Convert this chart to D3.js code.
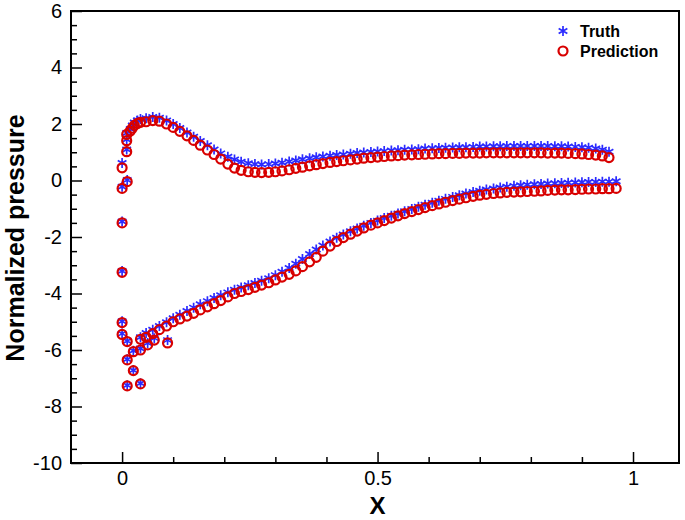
<!DOCTYPE html>
<html>
<head>
<meta charset="utf-8">
<script src="https://cdn.jsdelivr.net/npm/d3@7"></script>
<style>
  body { margin: 0; background: #fff; }
  text { font-family: "Liberation Sans", Arial, sans-serif; }
</style>
</head>
<body>
<div id="chart"></div>
<script>
// chart size
var svgWidth = 685;
var svgHeight = 520;

// ---- data ----
// upper surface, shared x stations
var upperX = [0.047, 0.060, 0.073, 0.087, 0.100, 0.113, 0.127, 0.140, 0.153, 0.167,
  0.180, 0.193, 0.207, 0.220, 0.233, 0.247, 0.260, 0.273, 0.287, 0.300,
  0.313, 0.327, 0.340, 0.353, 0.367, 0.380, 0.393, 0.407, 0.420, 0.433,
  0.447, 0.460, 0.473, 0.487, 0.500, 0.513, 0.527, 0.540, 0.553, 0.567,
  0.580, 0.593, 0.607, 0.620, 0.633, 0.647, 0.660, 0.673, 0.687, 0.700,
  0.713, 0.727, 0.740, 0.753, 0.767, 0.780, 0.793, 0.807, 0.820, 0.833,
  0.847, 0.860, 0.873, 0.887, 0.900, 0.913, 0.927, 0.940, 0.953];
var upperTruth = [2.20, 2.25, 2.22, 2.12, 2.00, 1.86, 1.70, 1.55, 1.40, 1.25,
  1.10, 0.96, 0.84, 0.74, 0.66, 0.61, 0.58, 0.57, 0.58, 0.60,
  0.63, 0.67, 0.71, 0.75, 0.79, 0.82, 0.85, 0.88, 0.90, 0.92,
  0.95, 0.97, 0.99, 1.01, 1.03, 1.04, 1.06, 1.07, 1.09, 1.10,
  1.11, 1.13, 1.14, 1.15, 1.16, 1.17, 1.18, 1.18, 1.19, 1.20,
  1.20, 1.21, 1.21, 1.22, 1.22, 1.22, 1.22, 1.22, 1.22, 1.22,
  1.21, 1.21, 1.20, 1.19, 1.18, 1.16, 1.13, 1.09, 1.02];
var upperPred = [2.08, 2.12, 2.10, 2.00, 1.88, 1.74, 1.58, 1.42, 1.25, 1.08,
  0.92, 0.76, 0.58, 0.44, 0.36, 0.31, 0.29, 0.28, 0.29, 0.31,
  0.34, 0.38, 0.43, 0.47, 0.52, 0.56, 0.60, 0.64, 0.67, 0.70,
  0.73, 0.76, 0.79, 0.81, 0.83, 0.85, 0.87, 0.88, 0.90, 0.91,
  0.92, 0.93, 0.94, 0.95, 0.95, 0.96, 0.96, 0.97, 0.97, 0.97,
  0.98, 0.98, 0.98, 0.98, 0.98, 0.98, 0.98, 0.98, 0.98, 0.97,
  0.97, 0.97, 0.96, 0.95, 0.94, 0.92, 0.90, 0.87, 0.81];

// lower surface
var lowerX = [0.047, 0.060, 0.073, 0.087, 0.100, 0.113, 0.127, 0.140, 0.153, 0.167,
  0.180, 0.193, 0.207, 0.220, 0.233, 0.247, 0.260, 0.273, 0.287, 0.300,
  0.313, 0.327, 0.340, 0.353, 0.367, 0.380, 0.393, 0.407, 0.420, 0.433,
  0.447, 0.460, 0.473, 0.487, 0.500, 0.513, 0.527, 0.540, 0.553, 0.567,
  0.580, 0.593, 0.607, 0.620, 0.633, 0.647, 0.660, 0.673, 0.687, 0.700,
  0.713, 0.727, 0.740, 0.753, 0.767, 0.780, 0.793, 0.807, 0.820, 0.833,
  0.847, 0.860, 0.873, 0.887, 0.900, 0.913, 0.927, 0.940, 0.953, 0.967];
var lowerTruth = [-5.40, -5.28, -5.15, -5.02, -4.88, -4.75, -4.62, -4.50, -4.38, -4.27,
  -4.16, -4.06, -3.96, -3.87, -3.79, -3.71, -3.63, -3.55, -3.46, -3.35,
  -3.23, -3.10, -2.95, -2.78, -2.60, -2.44, -2.30, -2.16, -2.03, -1.91,
  -1.80, -1.70, -1.60, -1.50, -1.42, -1.33, -1.25, -1.17, -1.09, -1.01,
  -0.93, -0.86, -0.79, -0.72, -0.65, -0.58, -0.52, -0.46, -0.41, -0.36,
  -0.32, -0.28, -0.25, -0.22, -0.19, -0.17, -0.15, -0.13, -0.12, -0.11,
  -0.10, -0.09, -0.08, -0.07, -0.06, -0.05, -0.05, -0.04, -0.04, -0.03];
var lowerPred = [-5.55, -5.42, -5.28, -5.15, -5.00, -4.90, -4.80, -4.70, -4.58, -4.47,
  -4.36, -4.25, -4.12, -4.00, -3.93, -3.86, -3.78, -3.70, -3.62, -3.52,
  -3.42, -3.32, -3.20, -3.05, -2.88, -2.72, -2.50, -2.32, -2.16, -2.02,
  -1.90, -1.79, -1.68, -1.58, -1.50, -1.42, -1.33, -1.25, -1.17, -1.10,
  -1.03, -0.96, -0.89, -0.83, -0.77, -0.71, -0.66, -0.61, -0.56, -0.52,
  -0.49, -0.46, -0.44, -0.42, -0.41, -0.40, -0.39, -0.38, -0.37, -0.35,
  -0.34, -0.33, -0.33, -0.32, -0.31, -0.30, -0.30, -0.29, -0.29, -0.28];

// leading edge cluster
var leX = [0.000, 0.000, 0.000, 0.000, 0.000, 0.000, 0.009, 0.009, 0.009, 0.010,
  0.016, 0.020, 0.024, 0.030, 0.036, 0.010, 0.010, 0.010, 0.022, 0.022,
  0.036, 0.036, 0.036, 0.050, 0.063, 0.089];
var leTruth = [0.62, -0.22, -1.45, -3.20, -4.98, -5.42, 1.68, 1.45, 1.10, 0.02,
  1.82, 1.95, 2.05, 2.12, 2.18, -5.68, -6.33, -7.25, -6.03, -6.72,
  -7.18, -5.95, -5.55, -5.75, -5.58, -5.65];
var lePred = [0.45, -0.28, -1.50, -3.25, -5.03, -5.45, 1.63, 1.41, 1.02, -0.04,
  1.75, 1.85, 1.95, 2.02, 2.06, -5.70, -6.35, -7.27, -6.06, -6.73,
  -7.20, -6.00, -5.62, -5.82, -5.65, -5.75];

var xMajor = [0, 0.5, 1];
var xMinor = [0.1, 0.2, 0.3, 0.4, 0.6, 0.7, 0.8, 0.9];
var yMajor = [-10, -8, -6, -4, -2, 0, 2, 4, 6];
var yMinor = [-9.5, -9, -8.5, -7.5, -7, -6.5, -5.5, -5, -4.5, -3.5, -3, -2.5,
  -1.5, -1, -0.5, 0.5, 1, 1.5, 2.5, 3, 3.5, 4.5, 5, 5.5];

var seriesNames = ["Truth", "Prediction"];
var blue = "#2b2bff";
var red = "#d80000";

// ---- layout ----
var plot = { left: 71, right: 679, top: 11, bottom: 463 };

var svg = d3.select("#chart")
  .append("svg")
  .attr("width", svgWidth)
  .attr("height", svgHeight);

var xScale = d3.scaleLinear().domain([-0.1, 1.09]).range([plot.left, plot.right]);
var yScale = d3.scaleLinear().domain([-10, 6]).range([plot.bottom, plot.top]);

// plain hyphen for negatives, like the original
var fmt = d => String(d);

// minor ticks (inside)
svg.append("g")
  .attr("transform", `translate(0, ${plot.bottom})`)
  .call(d3.axisBottom(xScale).tickValues(xMinor).tickSize(-6).tickFormat(""))
  .call(g => g.select(".domain").remove());
svg.append("g")
  .attr("transform", `translate(${plot.left}, 0)`)
  .call(d3.axisLeft(yScale).tickValues(yMinor).tickSize(-6).tickFormat(""))
  .call(g => g.select(".domain").remove());

// major ticks with labels
var xAxis = svg.append("g")
  .attr("transform", `translate(0, ${plot.bottom})`)
  .call(d3.axisBottom(xScale).tickValues(xMajor).tickSize(-11).tickPadding(8).tickFormat(fmt));
xAxis.select(".domain").remove();
xAxis.selectAll("text").attr("font-size", 20).attr("font-family", "Liberation Sans, Arial, sans-serif").attr("fill", "#000");

var yAxis = svg.append("g")
  .attr("transform", `translate(${plot.left}, 0)`)
  .call(d3.axisLeft(yScale).tickValues(yMajor).tickSize(-11).tickPadding(9).tickFormat(fmt));
yAxis.select(".domain").remove();
yAxis.selectAll("text").attr("font-size", 20).attr("font-family", "Liberation Sans, Arial, sans-serif").attr("fill", "#000");

svg.selectAll(".tick line").attr("stroke", "#000").attr("stroke-width", 1.5);

// frame
svg.append("rect")
  .attr("x", plot.left)
  .attr("y", plot.top)
  .attr("width", plot.right - plot.left)
  .attr("height", plot.bottom - plot.top)
  .attr("fill", "none")
  .attr("stroke", "#000")
  .attr("stroke-width", 2);

// axis titles
svg.append("text")
  .attr("x", xScale(0.5))
  .attr("y", 514)
  .attr("text-anchor", "middle")
  .attr("font-size", 24)
  .attr("font-weight", "bold")
  .text("X");

svg.append("text")
  .attr("transform", `translate(24, ${(plot.top + plot.bottom) / 2 + 1}) rotate(-90)`)
  .attr("text-anchor", "middle")
  .attr("font-size", 25)
  .attr("font-weight", "bold")
  .text("Normalized pressure");

// ---- points ----
function zip(xs, ys) {
  return xs.map((d, i) => ({ x: d, y: ys[i] }));
}
var truthPts = zip(upperX, upperTruth).concat(zip(lowerX, lowerTruth), zip(leX, leTruth));
var predPts = zip(upperX, upperPred).concat(zip(lowerX, lowerPred), zip(leX, lePred));

var s = 5;
var starPath = `M0,${-s}V${s}M${-s * 0.87},${-s * 0.5}L${s * 0.87},${s * 0.5}M${-s * 0.87},${s * 0.5}L${s * 0.87},${-s * 0.5}`;

svg.append("g")
  .selectAll("path")
  .data(truthPts)
  .enter()
  .append("path")
  .attr("transform", d => `translate(${xScale(d.x)}, ${yScale(d.y)})`)
  .attr("d", starPath)
  .attr("stroke", blue)
  .attr("stroke-width", 1.7)
  .attr("fill", "none");

svg.append("g")
  .selectAll("circle")
  .data(predPts)
  .enter()
  .append("circle")
  .attr("cx", d => xScale(d.x))
  .attr("cy", d => yScale(d.y))
  .attr("r", 4.5)
  .attr("fill", "none")
  .attr("stroke", red)
  .attr("stroke-width", 2.2);

// ---- legend ----
var legend = svg.append("g").attr("transform", "translate(563, 0)");
legend.append("path")
  .attr("transform", "translate(0, 31)")
  .attr("d", starPath)
  .attr("stroke", blue)
  .attr("stroke-width", 1.7)
  .attr("fill", "none");
legend.append("circle")
  .attr("cx", 0)
  .attr("cy", 51)
  .attr("r", 4.5)
  .attr("fill", "none")
  .attr("stroke", red)
  .attr("stroke-width", 2.2);
legend.selectAll("text.lab")
  .data(seriesNames)
  .enter()
  .append("text")
  .attr("class", "lab")
  .attr("x", 17)
  .attr("y", (d, i) => 37 + i * 20)
  .attr("font-size", 16)
  .attr("font-weight", "bold")
  .text(d => d);
</script>
</body>
</html>
